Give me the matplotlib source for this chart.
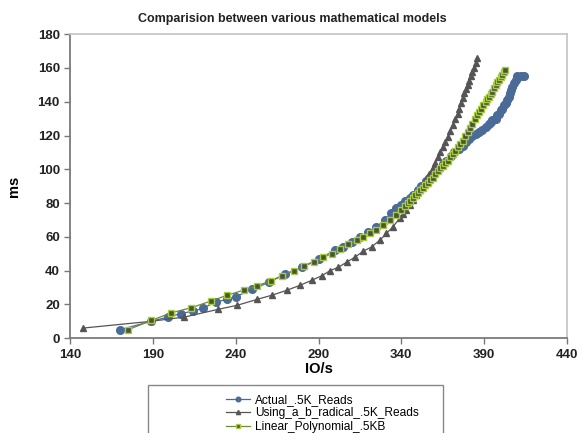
"""Comparision between various mathematical models - recreated chart"""

import numpy as np
import matplotlib
matplotlib.use("Agg")
from matplotlib import pyplot as plt
from matplotlib.patches import Rectangle

plt.rcParams['font.family'] = ['Liberation Sans', 'DejaVu Sans']

# Actual_.5K_Reads
actual_x = [170, 189, 199, 207, 214, 220, 228, 235, 240, 250, 260, 270, 280, 290,
            300, 305, 310, 315, 320, 325, 330, 334, 337, 340, 342, 345, 347, 350,
            352, 355, 357, 360, 362, 365, 367, 370, 372, 375, 377, 379, 381, 383,
            385, 387, 389, 391, 393, 394, 395, 397, 398, 399, 400, 401, 402, 403,
            404, 405, 405.5, 406, 407, 408, 409, 410, 412, 414]
actual_y = [5, 10, 12.5, 14.6, 16, 17.6, 21.5, 23, 24.5, 29, 33, 38, 42, 47,
            52, 54, 57, 60, 63, 66, 70, 74, 77, 79, 81, 83, 85, 88,
            90, 93, 95, 98, 100, 103, 105, 108, 110, 112, 114, 116, 118, 120,
            121, 122, 123, 125, 127, 128, 129, 130, 132, 133, 135, 136, 138, 139,
            141, 143, 145, 147, 149, 151, 153, 155, 155, 155]

# Using_a_b_radical_.5K_Reads
radical_x = [148, 189, 209, 229, 241, 253, 262, 271, 279, 286, 292, 297, 302, 307,
             312, 317, 322, 327, 331, 335, 339, 341, 343, 345, 347, 349, 351, 353,
             355, 357, 359, 360.5, 362, 363.5, 365, 366.5, 368, 369.5, 371, 372.5,
             374, 375, 376, 377, 378, 379, 380, 381, 382, 383, 384, 385, 385.6]
radical_y = [6, 10, 12.5, 17, 19.5, 23, 25.5, 28.4, 31.4, 34.3, 37, 40, 42, 45,
             48, 51.5, 54, 58, 62, 66, 71, 73.5, 76, 79, 82, 85, 88, 91,
             94, 97.5, 101, 104, 107, 110, 113, 116, 119, 122.5, 126, 129.5,
             133, 136, 139, 142, 145, 147.5, 150, 152.5, 155, 157.5, 160, 163, 166]

# Linear_Polynomial_.5KB
linear_x = [175, 189, 201, 213, 225, 235, 245, 253, 261, 268, 275, 281, 287, 293,
            298, 303, 308, 313, 317, 321, 325, 329, 333, 337, 340, 342, 344, 345.5,
            347, 348.5, 350, 351.5, 353, 354.5, 356, 357.5, 359, 360.5, 362, 363.5,
            365, 366.5, 368, 369.5, 371, 372.5, 374, 375.5, 377, 378.5, 380, 381.5,
            383, 384.5, 386, 387, 388, 389.5, 391, 392, 393, 394, 395, 396, 397,
            398, 399, 400, 401, 402, 402.5]
linear_y = [5, 10.5, 15, 18, 22, 25.5, 28.5, 31, 34, 37, 40, 42.5, 45, 48,
            50, 53, 55.5, 58, 60, 62, 64, 67, 70, 73, 76, 78, 80, 81.5,
            83, 84.5, 86, 87.5, 89, 90.5, 92, 93.5, 95, 97, 99, 100.5,
            102, 103.5, 105, 107, 109, 111, 113, 115, 117, 119.5, 122, 124.5,
            127, 129.5, 132, 134, 136, 138, 140, 141.5, 143, 144.5, 146, 148, 150,
            151.5, 153, 154.5, 156, 157.5, 159]

fig = plt.figure(figsize=(5.85, 4.33), dpi=100)
ax = fig.add_axes([0.12, 0.219, 0.849, 0.702])

ax.plot(actual_x, actual_y, '-o', color='#4a6a98', lw=0.9, ms=5.5,
        mfc='#4a6a98', mec='#4a6a98', label='Actual_.5K_Reads', zorder=2)
ax.plot(radical_x, radical_y, '-^', color='#555555', lw=0.9, ms=5,
        mfc='#555555', mec='#555555', label='Using_a_b_radical_.5K_Reads', zorder=3)
ax.plot(linear_x, linear_y, '-s', color='#6b8a3a', lw=0.9, ms=5,
        mfc='#4b5530', mec='#a8cc48', mew=1.0, label='Linear_Polynomial_.5KB', zorder=4)

ax.set_xlim(140, 440)
ax.set_ylim(0, 180)
ax.set_xticks(np.arange(140, 441, 50))
ax.set_yticks(np.arange(0, 181, 20))
ax.tick_params(direction='out', length=4, width=1, colors='#777777',
               labelcolor='#222222', labelsize=9.5)
for lbl in ax.get_xticklabels() + ax.get_yticklabels():
    lbl.set_fontweight('bold')

for side in ['left', 'bottom']:
    ax.spines[side].set_color('#7a7a7a')
    ax.spines[side].set_linewidth(1.3)
for side in ['top', 'right']:
    ax.spines[side].set_color('#c8c8c8')
    ax.spines[side].set_linewidth(1.3)

ax.set_xlabel('IO/s', fontsize=10.5, fontweight='bold', labelpad=1)
ax.set_ylabel('ms', fontsize=10.5, fontweight='bold', labelpad=12)
fig.text(0.5, 0.955, 'Comparision between various mathematical models',
         ha='center', va='center', fontsize=9, fontweight='bold', color='#222222')

# legend box, cut off by the bottom of the picture like the original
fig.patches.append(Rectangle((148 / 585, -0.05), (443 - 148) / 585, 0.05 + (433 - 385) / 433,
                             transform=fig.transFigure, fill=False,
                             edgecolor='#888888', lw=1.0))
fig.legend(loc='upper left', bbox_to_anchor=(220 / 585, 1 - 388 / 433),
           frameon=False, fontsize=8.6, handlelength=2.0, handletextpad=0.4,
           labelspacing=0.12, markerscale=0.6, borderpad=0)

plt.savefig('out.png', dpi=100)
